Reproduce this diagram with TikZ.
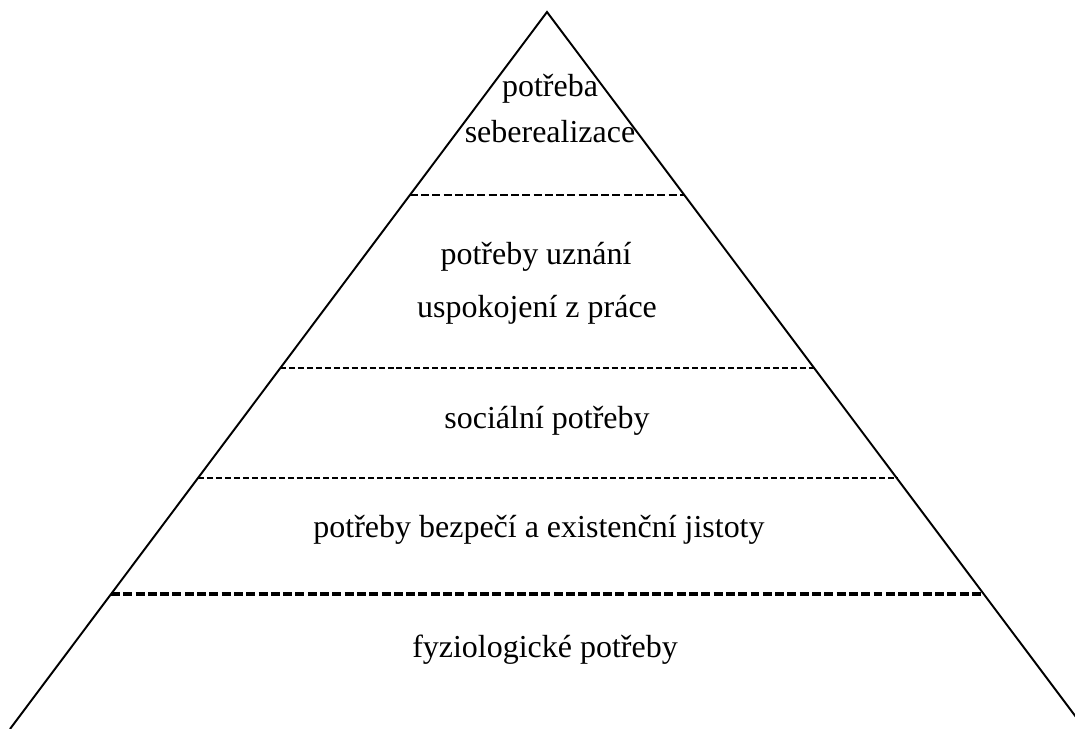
\documentclass[tikz,border=0pt]{standalone}
\usepackage{fontspec}
\setmainfont{Liberation Serif}
\usepackage{tikz}

\begin{document}
\begin{tikzpicture}[x=0.02cm,y=-0.02cm,
  level/.style={font=\fontsize{18.2pt}{22pt}\selectfont, anchor=base, inner sep=0pt},
  thinsep/.style={line width=0.7pt, dash pattern=on 3.4pt off 1.7pt},
  midsep/.style={line width=1.1pt, dash pattern=on 4.5pt off 1.9pt},
  thicksep/.style={line width=2pt, dash pattern=on 5.1pt off 1.9pt}]
\useasboundingbox (0,0) rectangle (1075,729);
\clip (0,0) rectangle (1075,729);
\draw[line width=1.1pt] (10,729) -- (547,12) -- (1085,729);
\draw[midsep] (410,195) -- (684,195);
\draw[thinsep] (280,368) -- (814,368);
\draw[thinsep] (198,478) -- (897,478);
\draw[thicksep] (111,594) -- (984,594);
\node[level] (self1) at (550,97) {potřeba};
\node[level] (self2) at (550,143) {seberealizace};
\node[level] (esteem1) at (536,265) {potřeby uznání};
\node[level] (esteem2) at (537,318) {uspokojení z práce};
\node[level] (social) at (547,428) {sociální potřeby};
\node[level] (safety) at (539,537) {potřeby bezpečí a existenční jistoty};
\node[level] (phys) at (545,657) {fyziologické potřeby};
\end{tikzpicture}
\end{document}
